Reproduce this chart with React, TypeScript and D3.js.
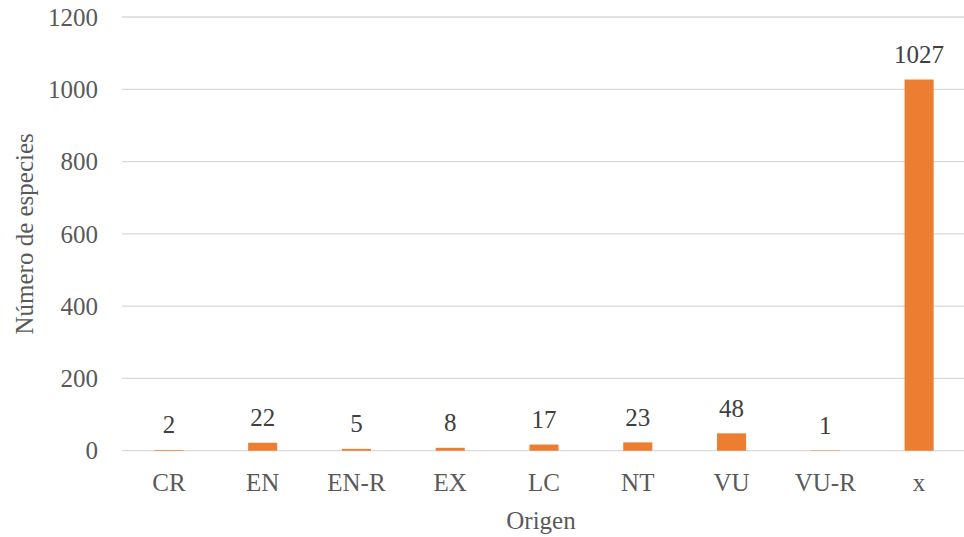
import React from "react";
import * as d3 from "d3";

const categories = ["CR", "EN", "EN-R", "EX", "LC", "NT", "VU", "VU-R", "x"];
const values = [2, 22, 5, 8, 17, 23, 48, 1, 1027];
const yTicks = [0, 200, 400, 600, 800, 1000, 1200];
const xTitle = "Origen";
const yTitle = "Número de especies";

export default function App() {
  const W = 964, H = 537;
  const left = 122, right = 966, top = 17, bottom = 450.7;
  const x = d3.scaleBand<string>().domain(categories).range([left, right]).paddingInner(0.69).paddingOuter(0.345);
  const y = d3.scaleLinear().domain([0, 1200]).range([bottom, top]);
  const ff = "Liberation Serif, DejaVu Serif, serif";
  const fs = 25;
  return (
    <svg width={W} height={H} style={{ position: "absolute", left: 0, top: 0, background: "#fff" }}>
      {yTicks.map((t) => (
        <g key={t}>
          <line x1={left} x2={right} y1={y(t)} y2={y(t)} stroke="#d9d9d9" strokeWidth={1.3} />
          <text x={98} y={y(t)} dy="0.35em" textAnchor="end" fontSize={fs} fill="#595959" fontFamily={ff}>{t}</text>
        </g>
      ))}
      {categories.map((c, i) => (
        <g key={c}>
          <rect x={x(c)} width={x.bandwidth()} y={y(values[i])} height={bottom - y(values[i])} fill="#ED7D31" />
          <text x={(x(c) as number) + x.bandwidth() / 2} y={y(values[i]) - 16.5} textAnchor="middle" fontSize={fs} fill="#404040" fontFamily={ff}>{values[i]}</text>
          <text x={(x(c) as number) + x.bandwidth() / 2} y={491} textAnchor="middle" fontSize={fs} fill="#595959" fontFamily={ff}>{c}</text>
        </g>
      ))}
      <text x={541} y={529} textAnchor="middle" fontSize={fs} fill="#595959" fontFamily={ff}>{xTitle}</text>
      <text transform={`translate(33, ${(top + bottom) / 2}) rotate(-90)`} textAnchor="middle" fontSize={fs} fill="#595959" fontFamily={ff}>{yTitle}</text>
    </svg>
  );
}
